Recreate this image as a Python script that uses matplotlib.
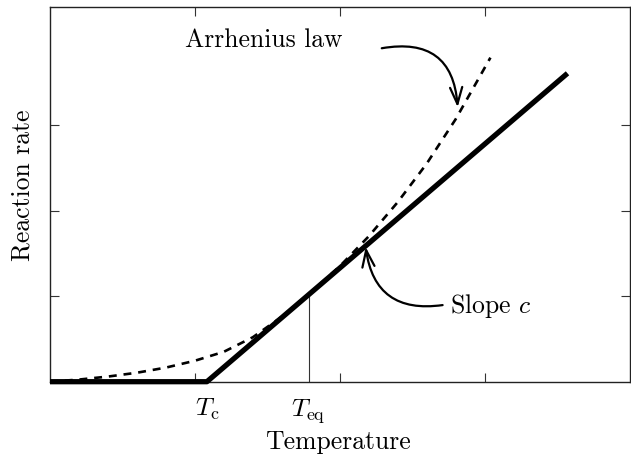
import matplotlib
matplotlib.use("Agg")
import matplotlib.pyplot as plt

plt.rcParams['font.family'] = ['cmr10', 'DejaVu Serif']
plt.rcParams['mathtext.fontset'] = 'cm'
plt.rcParams['axes.unicode_minus'] = False
plt.rcParams['axes.formatter.use_mathtext'] = True

# --- data ---
T_c = 1.083
T_eq = 1.786
rate_at_Teq = 1.0

linear_T = [0.0, T_c, 3.572]
linear_rate = [0.0, 0.0, 3.607]

arrhenius_T = [0.0, 0.2, 0.4, 0.6, 0.8, 1.0, 1.2, 1.4, 1.6, 1.8, 2.0, 2.2, 2.4, 2.6, 2.8, 3.04]
arrhenius_rate = [0.0, 0.025, 0.06, 0.105, 0.165, 0.245, 0.35, 0.52, 0.76, 1.045, 1.35, 1.70, 2.10, 2.55, 3.07, 3.79]

x_ticks = [1, 2, 3]
y_ticks = [1, 2, 3]
x_tick_labels = [r'$T_\mathrm{c}$', r'$T_\mathrm{eq}$']

fig = plt.figure(figsize=(6.31, 4.61), dpi=100)
ax = fig.add_axes([50 / 631, (461 - 381.7) / 461, 579.5 / 631, 375.2 / 461])
ax.set_xlim(0, 4)
ax.set_ylim(0, 375.2 / 85.5)

ax.plot(arrhenius_T, arrhenius_rate, color='black', lw=1.9, ls=(0, (3.0, 2.6)), zorder=2)
ax.plot(linear_T, linear_rate, color='black', lw=3.8, solid_capstyle='butt', clip_on=False, zorder=3)
ax.plot([T_eq, T_eq], [0, rate_at_Teq], color='#333333', lw=0.8, zorder=1)

ax.set_xticks(x_ticks)
ax.set_yticks(y_ticks)
ax.set_xticklabels([])
ax.set_yticklabels([])
ax.tick_params(direction='in', length=6.5, width=0.8, top=True, right=True, color='#333333')
for s in ax.spines.values():
    s.set_linewidth(1.0)
    s.set_color('#222222')

fs = 18.5
for xv, lab in zip([T_c, T_eq], x_tick_labels):
    ax.text(xv, -0.40, lab, ha='center', va='baseline', fontsize=fs, clip_on=False)

ax.set_xlabel('Temperature', fontsize=fs, va='baseline')
ax.xaxis.set_label_coords(0.497, (381.7 - 449) / 375.2)
ax.set_ylabel('Reaction rate', fontsize=fs, va='center')
ax.yaxis.set_label_coords(-0.047, (381.7 - 185) / 375.2)

ax.text(1.476, 3.918, 'Arrhenius law', ha='center', va='baseline', fontsize=fs)
ax.text(2.759, 0.80, r'Slope $c$', ha='left', va='baseline', fontsize=fs)

astyle = '->,head_length=0.6,head_width=0.22'
ax.annotate('', xy=(2.814, 3.21), xytext=(2.29, 3.90),
            arrowprops=dict(arrowstyle=astyle, mutation_scale=20, lw=1.6, color='black',
                            shrinkA=0, shrinkB=0, connectionstyle='arc3,rad=-0.55'))
ax.annotate('', xy=(2.179, 1.575), xytext=(2.71, 0.896),
            arrowprops=dict(arrowstyle=astyle, mutation_scale=20, lw=1.6, color='black',
                            shrinkA=0, shrinkB=0, connectionstyle='arc3,rad=-0.5'))

fig.savefig('out.png', dpi=100)
